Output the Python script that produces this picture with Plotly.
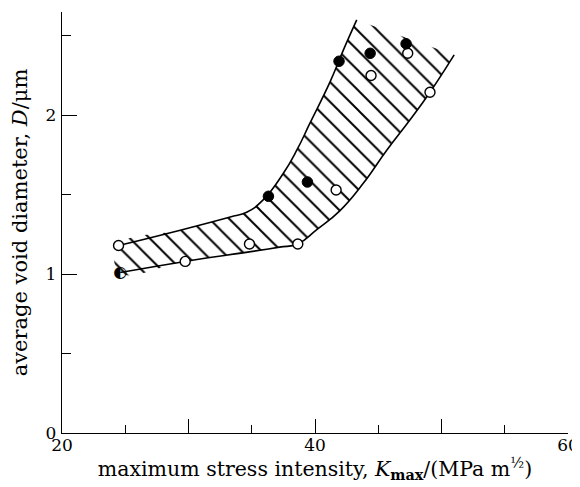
import plotly.graph_objects as go

# data
k_open = [24.47, 29.74, 34.82, 38.64, 41.67, 44.43, 47.33, 49.09]
d_open = [1.18, 1.08, 1.19, 1.19, 1.53, 2.25, 2.39, 2.145]
k_filled = [36.32, 39.4, 41.9, 44.36, 47.2]
d_filled = [1.49, 1.58, 2.34, 2.39, 2.45]
k_half = [24.6]
d_half = [1.01]

k_upper = [24.47, 29.5, 33.3, 34.6, 35.9, 37.5, 38.56, 39.6, 41.19, 42.24, 43.3]
d_upper = [1.18, 1.28, 1.36, 1.39, 1.467, 1.635, 1.78, 1.95, 2.21, 2.41, 2.6]
k_lower = [24.6, 29.74, 34.8, 37.2, 38.64, 40.14, 41.98, 43.8, 45.67, 47.5, 49.09, 51.0]
d_lower = [1.01, 1.08, 1.14, 1.17, 1.19, 1.28, 1.40, 1.57, 1.78, 1.97, 2.145, 2.38]

x_ticks = [20, 30, 40, 50, 60]
x_ticktext = ["20", "", "40", "", "60"]
x_minor = [25, 35, 45, 55]
y_ticks = [0, 1, 2]
y_ticktext = ["0", "1", "2"]
y_minor = [0.5, 1.5, 2.5]

SERIF = "DejaVu Serif"
SMOOTH = 1.3

fig = go.Figure()

# hatched band (polygon: upper boundary reversed, then lower boundary)
band_x = k_upper[::-1] + k_lower
band_y = d_upper[::-1] + d_lower
fig.add_trace(go.Scatter(
    x=band_x, y=band_y, mode="lines", fill="toself",
    line=dict(width=0, shape="spline", smoothing=SMOOTH),
    fillcolor="white",
    fillpattern=dict(shape="\\", size=14, solidity=0.14, fgcolor="black",
                     bgcolor="white", fgopacity=1, fillmode="replace"),
    hoverinfo="skip", showlegend=False))

for kx, dy in ((k_upper, d_upper), (k_lower, d_lower)):
    fig.add_trace(go.Scatter(
        x=kx, y=dy, mode="lines",
        line=dict(color="black", width=1.6, shape="spline", smoothing=SMOOTH),
        showlegend=False))

fig.add_trace(go.Scatter(
    x=k_open, y=d_open, mode="markers",
    marker=dict(symbol="circle", size=10, color="white", line=dict(color="black", width=1.4)),
    showlegend=False))
fig.add_trace(go.Scatter(
    x=k_filled, y=d_filled, mode="markers",
    marker=dict(symbol="circle", size=10.5, color="black", line=dict(color="black", width=1)),
    showlegend=False))
fig.add_trace(go.Scatter(
    x=k_half, y=d_half, mode="text", text=["◐"],
    textposition="middle center",
    textfont=dict(family="DejaVu Sans", size=16, color="black"),
    showlegend=False))

# the page body adds an 8px margin, so the figure is 8px smaller and offset
fig.update_layout(
    width=572, height=479,
    margin=dict(l=54, r=12, t=4, b=54, autoexpand=False),
    paper_bgcolor="white", plot_bgcolor="white",
    font=dict(family=SERIF, size=17, color="black"),
    xaxis=dict(
        range=[20, 60], tickmode="array", tickvals=x_ticks, ticktext=x_ticktext,
        ticks="inside", ticklen=14, tickwidth=1.3, tickcolor="black",
        minor=dict(tickmode="array", tickvals=x_minor, ticks="inside", ticklen=8,
                   tickwidth=1.3, tickcolor="black"),
        showline=True, linecolor="black", linewidth=1.3, showgrid=False, zeroline=False,
        ticklabelstandoff=-4, automargin=False,
        title=dict(text="maximum stress intensity, <i>K</i><sub><b>max</b></sub>/(MPa m<sup>½</sup>)",
                   standoff=0, font=dict(size=20.5)),
        tickfont=dict(size=17),
    ),
    yaxis=dict(
        range=[0, 2.65], tickmode="array", tickvals=y_ticks, ticktext=y_ticktext,
        ticks="inside", ticklen=15, tickwidth=1.3, tickcolor="black",
        minor=dict(tickmode="array", tickvals=y_minor, ticks="inside", ticklen=9,
                   tickwidth=1.3, tickcolor="black"),
        showline=True, linecolor="black", linewidth=1.3, showgrid=False, zeroline=False,
        ticklabelstandoff=1, automargin=False,
        title=dict(text="average void diameter, <i>D</i>/μm", standoff=12, font=dict(size=21)),
        tickfont=dict(size=17),
    ),
)

fig.write_html("out.html")
